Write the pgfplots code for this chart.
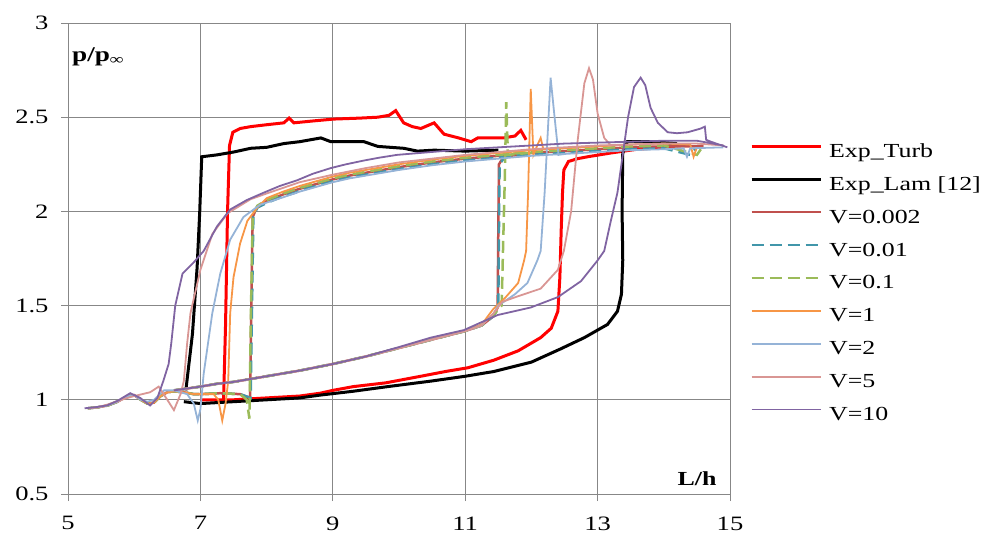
\documentclass[border=0pt]{standalone}
\usepackage{fontspec}
\setmainfont{Liberation Serif}[FakeStretch=1.3]
\usepackage{pgfplots}
\pgfplotsset{compat=1.18}

\definecolor{cturb}{RGB}{255,0,0}
\definecolor{cv002}{RGB}{192,80,77}
\definecolor{cv01}{RGB}{65,150,170}
\definecolor{cv1}{RGB}{155,187,89}
\definecolor{cvone}{RGB}{247,150,70}
\definecolor{cvtwo}{RGB}{149,179,215}
\definecolor{cvfive}{RGB}{217,150,148}
\definecolor{cvten}{RGB}{128,100,162}
\definecolor{gridc}{RGB}{135,135,135}

\begin{document}
\begin{tikzpicture}
\begin{axis}[
  scale only axis, width=662bp, height=471bp,
  xmin=5, xmax=15, ymin=0.5, ymax=3,
  xtick={5,7,9,11,13,15}, ytick={0.5,1,1.5,2,2.5,3},
  grid=major, grid style={line width=0.9bp, color=gridc},
  axis line style={line width=0.9bp, color=gridc},
  tick style={line width=0.9bp, color=gridc},
  tick align=outside, major tick length=7bp,
  xtick pos=bottom, ytick pos=left,
  tick label style={font=\fontsize{20.5}{24}\selectfont},
  xticklabel style={yshift=-12bp},
  yticklabel style={xshift=-9bp},
  /pgf/number format/assume math mode=true,
  unbounded coords=jump,
  legend cell align=left,
  legend image code/.code={\draw[#1] (0bp,6bp) -- (69bp,6bp);},
  legend style={draw=none, fill=none, inner sep=0pt,
    at={(1.03,0.446)}, anchor=west,
    font=\fontsize{20}{24}\selectfont,
    nodes={inner sep=0pt, text height=14bp, text depth=4bp},
    row sep=14.9bp,
    /tikz/every odd column/.append style={column sep=7bp}},
]
% Exp_Turb
\addplot[cturb, line width=3bp] coordinates {
(7.0,1.0) (7.5,1.0) (8.0,1.01) (8.5,1.02) (8.81,1.035) (9.0,1.05) (9.31,1.07) (9.8,1.09) (10.33,1.125) (10.7,1.15) (11.04,1.17) (11.43,1.21) (11.8,1.26) (12.14,1.33) (12.3,1.38) (12.4,1.47) (12.43,1.65) (12.45,1.9) (12.47,2.1) (12.49,2.22) (12.56,2.265) (12.7,2.28) (12.85,2.29) (13.2,2.31) (13.6,2.33) (14.0,2.34) (14.3,2.35)
(14.35,nan)
(7.35,1.0) (7.38,1.4) (7.41,2.0) (7.44,2.35) (7.49,2.42) (7.6,2.44) (7.76,2.45) (8.0,2.46) (8.26,2.47) (8.34,2.495) (8.41,2.47) (8.7,2.48) (9.01,2.49) (9.4,2.495) (9.68,2.50) (9.85,2.51) (9.95,2.535) (10.07,2.47) (10.2,2.45) (10.33,2.44) (10.53,2.47) (10.68,2.41) (10.9,2.39) (11.09,2.37) (11.19,2.39) (11.58,2.39) (11.75,2.40) (11.84,2.43) (11.92,2.38)
};
\addlegendentry{Exp\_Turb}
% Exp_Lam
\addplot[black, line width=3bp] coordinates {
(6.75,0.99) (7.0,0.98) (7.5,0.99) (8.0,1.0) (8.5,1.01) (8.81,1.025) (9.3,1.045) (9.83,1.07) (10.5,1.10) (11.0,1.125) (11.43,1.15) (12.0,1.2) (12.44,1.27) (12.8,1.33) (13.15,1.40) (13.3,1.47) (13.36,1.56) (13.38,1.74) (13.37,2.0) (13.38,2.31) (13.45,2.37) (13.8,2.37) (14.2,2.36)
(14.25,nan)
(6.78,1.05) (6.88,1.35) (6.95,1.7) (6.99,2.0) (7.02,2.29) (7.25,2.30) (7.5,2.315) (7.76,2.335) (8.0,2.34) (8.26,2.36) (8.5,2.37) (8.82,2.39) (8.97,2.37) (9.47,2.37) (9.68,2.345) (10.07,2.335) (10.28,2.32) (10.53,2.325) (11.0,2.32) (11.5,2.325)
};
\addlegendentry{Exp\_Lam [12]}
% V=0.002
\addplot[cv002, line width=2.5bp] coordinates {
(5.3,0.955) (5.45,0.96) (5.6,0.97) (5.75,0.99) (5.9,1.02) (6.0,1.025) (6.1,1.0) (6.2,0.98) (6.3,0.985) (6.4,1.02) (6.5,1.04) (6.6,1.045) (6.75,1.04) (6.9,1.03) (7.0,1.03) (7.3,1.035) (7.6,1.03) (7.75,1.01) (7.77,1.5) (7.79,1.97) (7.85,2.02) (8.0,2.055) (8.25,2.09) (8.5,2.12) (8.75,2.145) (9.0,2.17) (9.25,2.19) (9.5,2.205) (9.75,2.22) (10.0,2.235) (10.5,2.26) (11.0,2.28) (11.5,2.295) (12.0,2.31) (12.5,2.32) (13.0,2.33) (13.5,2.34) (14.0,2.345) (14.5,2.345) (14.6,2.35)
(14.65,nan)
(6.6,1.05) (6.8,1.06) (7.0,1.07) (7.25,1.085) (7.5,1.095) (7.75,1.11) (8.0,1.125) (8.5,1.155) (9.0,1.19) (9.5,1.23) (10.0,1.275) (10.5,1.32) (11.0,1.365) (11.25,1.395) (11.43,1.445) (11.49,1.49) (11.5,1.9) (11.51,2.25) (11.58,2.29) (12.0,2.31)
};
\addlegendentry{V=0.002}
% V=0.01
\addplot[cv01, line width=2.5bp, dash pattern=on 12bp off 6bp] coordinates {
(5.3,0.955) (5.45,0.96) (5.6,0.97) (5.75,0.99) (5.9,1.02) (6.0,1.025) (6.1,1.0) (6.2,0.98) (6.3,0.985) (6.4,1.02) (6.5,1.04) (6.6,1.045) (6.75,1.04) (6.9,1.03) (7.0,1.03) (7.3,1.035) (7.6,1.03) (7.76,1.01) (7.78,1.5) (7.8,1.97) (7.86,2.02) (8.0,2.045) (8.25,2.08) (8.44,2.10) (8.5,2.11) (8.75,2.135) (9.0,2.16) (9.25,2.18) (9.5,2.195) (9.75,2.21) (10.0,2.225) (10.5,2.25) (11.0,2.27) (11.5,2.285) (12.0,2.30) (12.5,2.31) (13.0,2.32) (13.5,2.33) (14.0,2.335) (14.4,2.30) (14.5,2.34)
(14.55,nan)
(6.6,1.05) (6.8,1.06) (7.0,1.07) (7.25,1.085) (7.5,1.095) (7.75,1.11) (8.0,1.125) (8.5,1.155) (9.0,1.19) (9.5,1.23) (10.0,1.275) (10.5,1.32) (11.0,1.365) (11.25,1.395) (11.43,1.445) (11.5,1.49) (11.51,1.9) (11.52,2.25) (11.6,2.29) (12.0,2.305)
};
\addlegendentry{V=0.01}
% V=0.1
\addplot[cv1, line width=2.5bp, dash pattern=on 12bp off 6bp] coordinates {
(5.3,0.955) (5.45,0.96) (5.6,0.97) (5.75,0.99) (5.9,1.02) (6.0,1.025) (6.1,1.0) (6.2,0.98) (6.3,0.985) (6.4,1.02) (6.5,1.04) (6.6,1.045) (6.75,1.04) (6.9,1.03) (7.0,1.03) (7.3,1.035) (7.6,1.03) (7.7,1.0) (7.74,0.9) (7.76,1.4) (7.79,1.98) (7.86,2.03) (8.0,2.06) (8.25,2.095) (8.5,2.125) (8.75,2.15) (9.0,2.175) (9.25,2.195) (9.5,2.21) (9.75,2.225) (10.0,2.24) (10.5,2.265) (11.0,2.285) (11.5,2.30) (12.0,2.315) (12.5,2.325) (13.0,2.335) (13.5,2.345) (14.0,2.35) (14.5,2.30) (14.6,2.35)
(14.65,nan)
(6.6,1.05) (6.8,1.06) (7.0,1.07) (7.25,1.085) (7.5,1.095) (7.75,1.11) (8.0,1.125) (8.5,1.155) (9.0,1.19) (9.5,1.23) (10.0,1.275) (10.5,1.32) (11.0,1.365) (11.25,1.395) (11.43,1.45) (11.55,1.5) (11.6,2.2) (11.62,2.58) (11.645,2.3) (11.8,2.305) (12.1,2.315)
};
\addlegendentry{V=0.1}
% V=1
\addplot[cvone, line width=1.8bp] coordinates {
(5.3,0.955) (5.45,0.96) (5.6,0.97) (5.75,0.99) (5.9,1.02) (6.0,1.025) (6.1,1.0) (6.2,0.98) (6.3,0.985) (6.4,1.02) (6.5,1.04) (6.6,1.045) (6.75,1.04) (6.9,1.03) (7.0,1.03) (7.2,1.03) (7.27,1.0) (7.33,0.89) (7.38,0.98) (7.42,1.1) (7.45,1.46) (7.5,1.65) (7.6,1.83) (7.71,1.95) (7.86,2.02) (8.0,2.07) (8.25,2.105) (8.5,2.135) (8.75,2.16) (9.0,2.185) (9.25,2.205) (9.5,2.22) (9.75,2.235) (10.0,2.25) (10.5,2.275) (11.0,2.295) (11.5,2.31) (12.0,2.325) (12.5,2.335) (13.0,2.345) (13.5,2.355) (14.0,2.36) (14.4,2.355) (14.45,2.29) (14.5,2.34)
(14.55,nan)
(6.6,1.05) (6.8,1.06) (7.0,1.07) (7.25,1.085) (7.5,1.095) (7.75,1.11) (8.0,1.125) (8.5,1.155) (9.0,1.19) (9.5,1.23) (10.0,1.275) (10.5,1.32) (11.0,1.365) (11.25,1.40) (11.42,1.48) (11.6,1.54) (11.8,1.62) (11.89,1.74) (11.92,1.79) (11.95,2.1) (11.99,2.65) (12.03,2.3) (12.1,2.36) (12.14,2.39) (12.18,2.33) (12.5,2.335)
};
\addlegendentry{V=1}
% V=2
\addplot[cvtwo, line width=1.8bp] coordinates {
(5.3,0.955) (5.45,0.96) (5.6,0.97) (5.75,0.99) (5.9,1.02) (6.0,1.025) (6.1,1.0) (6.2,0.99) (6.3,1.0) (6.45,1.05) (6.6,1.05) (6.8,1.03) (6.9,0.98) (6.96,0.89) (7.0,0.95) (7.05,1.14) (7.18,1.46) (7.3,1.67) (7.45,1.85) (7.65,1.97) (7.9,2.035) (8.25,2.075) (8.5,2.105) (8.75,2.13) (9.0,2.155) (9.25,2.175) (9.5,2.19) (9.75,2.205) (10.0,2.22) (10.5,2.245) (11.0,2.265) (11.5,2.28) (12.0,2.295) (12.5,2.305) (13.0,2.315) (13.5,2.325) (14.0,2.33) (14.3,2.335) (14.35,2.29) (14.4,2.335) (14.9,2.34)
(14.95,nan)
(6.6,1.05) (6.8,1.06) (7.0,1.07) (7.25,1.085) (7.5,1.095) (7.75,1.11) (8.0,1.125) (8.5,1.155) (9.0,1.19) (9.5,1.23) (10.0,1.275) (10.5,1.32) (11.0,1.365) (11.25,1.395) (11.43,1.46) (11.5,1.5) (11.75,1.56) (11.94,1.62) (12.09,1.74) (12.14,1.79) (12.2,2.1) (12.29,2.71) (12.35,2.5) (12.41,2.3) (12.6,2.31)
};
\addlegendentry{V=2}
% V=5
\addplot[cvfive, line width=1.8bp] coordinates {
(5.3,0.955) (5.45,0.96) (5.6,0.975) (5.8,1.0) (6.0,1.02) (6.24,1.04) (6.37,1.07) (6.5,1.0) (6.6,0.945) (6.7,1.03) (6.75,1.1) (6.8,1.3) (6.85,1.46) (7.0,1.69) (7.18,1.88) (7.41,1.99) (7.76,2.065) (8.0,2.095) (8.5,2.155) (9.0,2.195) (9.5,2.23) (10.0,2.26) (10.5,2.28) (11.0,2.30) (11.5,2.315) (12.0,2.33) (12.5,2.34) (13.0,2.35) (13.5,2.355) (14.0,2.36) (14.5,2.36) (14.9,2.35)
(14.95,nan)
(6.6,1.05) (6.8,1.06) (7.0,1.07) (7.25,1.085) (7.5,1.095) (7.75,1.11) (8.0,1.125) (8.5,1.155) (9.0,1.19) (9.5,1.23) (10.0,1.275) (10.5,1.32) (11.0,1.365) (11.25,1.395) (11.43,1.46) (11.56,1.52) (11.8,1.55) (12.14,1.59) (12.4,1.69) (12.49,1.79) (12.6,2.0) (12.7,2.38) (12.74,2.5) (12.8,2.68) (12.87,2.76) (12.93,2.7) (13.0,2.52) (13.1,2.39) (13.2,2.35) (13.5,2.355)
};
\addlegendentry{V=5}
% V=10
\addplot[cvten, line width=1.8bp] coordinates {
(5.25,0.955) (5.4,0.96) (5.59,0.97) (5.75,0.995) (5.94,1.035) (6.09,1.01) (6.24,0.97) (6.35,1.01) (6.44,1.10) (6.52,1.19) (6.56,1.3) (6.62,1.5) (6.73,1.67) (6.9,1.73) (7.05,1.79) (7.25,1.92) (7.45,2.01) (7.7,2.06) (7.96,2.10) (8.2,2.135) (8.46,2.165) (8.7,2.2) (8.97,2.23) (9.2,2.25) (9.47,2.27) (9.7,2.285) (9.97,2.30) (10.48,2.315) (11.0,2.33) (11.5,2.34) (12.0,2.35) (12.5,2.36) (13.0,2.365) (13.5,2.37) (14.0,2.375) (14.5,2.375) (14.9,2.35)
(14.95,nan)
(6.6,1.05) (6.8,1.06) (7.0,1.07) (7.25,1.085) (7.5,1.095) (7.75,1.11) (8.0,1.125) (8.5,1.155) (9.0,1.19) (9.5,1.23) (10.0,1.28) (10.48,1.33) (10.98,1.37) (11.49,1.45) (11.99,1.49) (12.4,1.545) (12.75,1.63) (13.0,1.74) (13.1,1.79) (13.2,1.95) (13.3,2.1) (13.4,2.35) (13.46,2.5) (13.55,2.66) (13.65,2.71) (13.72,2.67) (13.8,2.55) (13.91,2.47) (14.06,2.42) (14.2,2.415) (14.36,2.42) (14.56,2.44) (14.62,2.45) (14.64,2.38) (14.71,2.37) (14.96,2.34)
};
\addlegendentry{V=10}

\node[anchor=base west, inner sep=0pt, font=\fontsize{21}{24}\selectfont\bfseries]
  at (axis description cs:0.006,0.919) {p/p\textsubscript{∞}};
\node[anchor=base west, inner sep=0pt, font=\fontsize{20}{24}\selectfont\bfseries]
  at (axis description cs:0.9205,0.019) {L/h};
\coordinate (sw) at (rel axis cs:0,0);
\end{axis}
\path ([shift={(-68bp,-40bp)}]sw) rectangle ++(986bp,534bp);
\end{tikzpicture}
\end{document}
